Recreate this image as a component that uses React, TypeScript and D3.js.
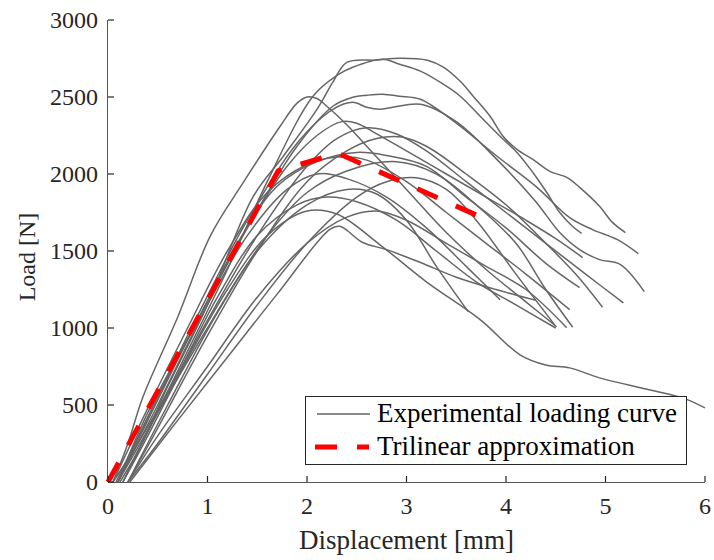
import React from "react";
import * as d3 from "d3";

type P = [number, number];

const xTicks = [0, 1, 2, 3, 4, 5, 6];
const yTicks = [0, 500, 1000, 1500, 2000, 2500, 3000];

const curve01: P[] = [[0.12,0],[0.3,200],[0.6,620],[1.0,1150],[1.46,1854],[1.76,2114],[2.1,2420],[2.26,2596],[2.4,2725],[2.7,2740],[2.93,2752],[3.21,2739],[3.37,2694],[3.54,2602],[3.67,2505],[3.84,2375],[3.97,2245],[4.11,2160],[4.27,2095],[4.44,2017],[4.61,1978],[4.74,1913],[4.94,1790],[5.07,1686],[5.2,1620]];
const curve02: P[] = [[0.15,0],[0.4,330],[0.8,850],[1.2,1380],[1.6,1950],[2.06,2505],[2.3,2640],[2.46,2693],[2.76,2745],[2.93,2713],[3.14,2668],[3.37,2583],[3.54,2505],[3.74,2375],[3.94,2245],[4.11,2140],[4.27,2010],[4.41,1880],[4.54,1750],[4.67,1659],[4.76,1614]];
const curve03: P[] = [[0.05,0],[0.2,250],[0.35,550],[0.7,1070],[1.03,1600],[1.36,1945],[1.73,2310],[1.9,2460],[2.0,2500],[2.1,2490],[2.2,2440],[2.4,2320],[2.6,2180],[3.0,1900],[3.4,1620],[3.8,1380],[4.2,1170],[4.51,1008]];
const curve04: P[] = [[0.1,0],[0.4,400],[0.9,1050],[1.4,1650],[1.9,2180],[2.26,2440],[2.46,2498],[2.6,2511],[2.76,2518],[2.93,2505],[3.14,2485],[3.5,2330],[3.9,2120],[4.3,1920],[4.64,1717],[4.87,1639],[5.12,1574],[5.33,1483]];
const curve05: P[] = [[0.08,0],[0.4,420],[0.9,1080],[1.4,1700],[1.9,2200],[2.26,2420],[2.46,2466],[2.6,2433],[2.73,2420],[2.86,2433],[3.14,2453],[3.5,2340],[3.9,2100],[4.3,1820],[4.54,1620],[4.74,1509],[4.94,1444],[5.15,1412],[5.39,1236]];
const curve06: P[] = [[0.1,0],[0.4,420],[0.9,1050],[1.4,1650],[1.8,2050],[2.1,2250],[2.35,2340],[2.5,2330],[2.7,2260],[3.0,2150],[3.4,2000],[3.8,1850],[4.2,1700],[4.5,1580],[4.77,1457]];
const curve07: P[] = [[0.15,0],[0.5,450],[1.0,1050],[1.5,1600],[2.0,2050],[2.3,2230],[2.6,2300],[2.9,2260],[3.2,2150],[3.6,1950],[4.0,1750],[4.4,1550],[4.8,1350],[5.18,1163]];
const curve08: P[] = [[0.2,0],[0.5,350],[1.0,950],[1.5,1500],[2.0,1950],[2.4,2150],[2.7,2230],[2.95,2240],[3.2,2180],[3.6,2000],[4.0,1800],[4.4,1550],[4.7,1350],[4.97,1135]];
const curve09: P[] = [[0.1,0],[0.4,450],[0.9,1050],[1.3,1550],[1.7,1920],[2.1,2080],[2.5,2140],[2.8,2120],[3.2,2050],[3.6,1850],[4.0,1650],[4.4,1420],[4.74,1262]];
const curve10: P[] = [[0.05,0],[0.4,480],[0.8,1000],[1.2,1500],[1.6,1880],[2.0,2060],[2.3,2110],[2.6,2090],[3.0,1950],[3.4,1750],[3.8,1550],[4.2,1350],[4.64,1119]];
const curve11: P[] = [[0.2,0],[0.6,500],[1.1,1100],[1.6,1600],[2.0,1880],[2.4,2020],[2.9,2080],[3.3,2000],[3.7,1800],[4.1,1550],[4.4,1250],[4.67,1005]];
const curve12: P[] = [[0.1,0],[0.5,500],[1.0,1150],[1.4,1600],[1.8,1900],[2.1,2000],[2.4,1970],[2.8,1850],[3.2,1650],[3.6,1400],[3.94,1184]];
const curve13: P[] = [[0.2,0],[0.5,250],[1.0,700],[1.5,1150],[2.0,1550],[2.5,1850],[2.8,1950],[3.1,1975],[3.4,1900],[3.7,1700],[4.1,1350],[4.49,1020]];
const curve14: P[] = [[0.1,0],[0.5,450],[1.0,1000],[1.5,1500],[2.0,1800],[2.4,1900],[2.7,1870],[3.0,1700],[3.3,1400],[3.62,1106]];
const curve15: P[] = [[0.15,0],[0.4,300],[0.8,800],[1.2,1250],[1.6,1600],[2.0,1760],[2.3,1740],[2.73,1542],[3.2,1300],[3.74,1054],[4.14,826],[4.4,760],[4.64,741],[4.94,676],[5.45,598],[5.8,540],[6.0,481]];
const curve16: P[] = [[0.2,0],[0.5,300],[1.0,750],[1.5,1200],[2.0,1550],[2.4,1720],[2.7,1760],[3.0,1700],[3.4,1550],[3.8,1400],[4.2,1250],[4.61,1002]];
const curve17: P[] = [[0.22,0],[0.7,400],[1.2,810],[1.7,1220],[2.23,1640],[2.33,1660],[2.56,1555],[2.8,1509],[3.14,1425],[3.5,1330],[3.9,1250],[4.3,1180]];
const curve18: P[] = [[0.05,0],[0.3,250],[0.7,700],[1.1,1200],[1.5,1600],[1.9,1800],[2.2,1850],[2.5,1820],[2.9,1700],[3.3,1500],[3.7,1300],[4.1,1150],[4.5,1000]];

const experimental: P[][] = [curve01, curve02, curve03, curve04, curve05, curve06, curve07, curve08, curve09, curve10, curve11, curve12, curve13, curve14, curve15, curve16, curve17, curve18];

const trilinear: P[] = [[0, 0], [1.71, 2020], [2.31, 2135], [3.73, 1725]];

const legendLabels = ["Experimental loading curve", "Trilinear approximation"];

const W = 714, H = 560;
const left = 108, right = 705, top = 20, bottom = 482;
const FONT = "'Liberation Serif', 'Times New Roman', serif";
const GRAY = "#666666";
const INK = "#262626";

export default function App() {
  const x = d3.scaleLinear().domain([0, 6]).range([left, right]);
  const y = d3.scaleLinear().domain([0, 3000]).range([bottom, top]);
  const line = d3.line<P>().x(d => x(d[0])).y(d => y(d[1])).curve(d3.curveCatmullRom.alpha(0.5));
  const straight = d3.line<P>().x(d => x(d[0])).y(d => y(d[1]));

  return (
    <svg width={W} height={H} style={{ position: "absolute", left: 0, top: 0, background: "#fff" }}>
      <rect width={W} height={H} fill="#fff" />
      {experimental.map((c, i) => (
        <path key={i} d={line(c) || ""} fill="none" stroke={GRAY} strokeWidth={1.5} />
      ))}
      <path d={straight(trilinear) || ""} fill="none" stroke="#ff0000" strokeWidth={5} strokeDasharray="22 20" />

      {/* axes */}
      <line x1={left} x2={right} y1={bottom + 0.5} y2={bottom + 0.5} stroke="#555" strokeWidth={1} />
      <line x1={left - 0.5} x2={left - 0.5} y1={top} y2={bottom} stroke="#555" strokeWidth={1} />
      {xTicks.map(t => (
        <g key={"x" + t}>
          <line x1={x(t)} x2={x(t)} y1={bottom} y2={bottom - 6} stroke={INK} strokeWidth={1.2} />
          <text x={x(t)} y={514} textAnchor="middle" fontFamily={FONT} fontSize={24} fill={INK}>{t}</text>
        </g>
      ))}
      {yTicks.map(t => (
        <g key={"y" + t}>
          <line x1={left} x2={left + 6} y1={y(t)} y2={y(t)} stroke={INK} strokeWidth={1.2} />
          <text x={98} y={y(t) + 8} textAnchor="end" fontFamily={FONT} fontSize={24} fill={INK}>{t}</text>
        </g>
      ))}
      <text x={(left + right) / 2} y={549} textAnchor="middle" fontFamily={FONT} fontSize={27} fill={INK}>Displacement [mm]</text>
      <text transform={`translate(35,${(top + bottom) / 2 + 6}) rotate(-90)`} textAnchor="middle" fontFamily={FONT} fontSize={24} fill={INK}>Load [N]</text>

      {/* legend */}
      <rect x={305.5} y={396.5} width={381} height={68} fill="#fff" stroke={INK} strokeWidth={1} />
      <line x1={317} x2={370} y1={414} y2={414} stroke={GRAY} strokeWidth={1.5} />
      <line x1={315} x2={369} y1={447} y2={447} stroke="#ff0000" strokeWidth={5} strokeDasharray="22 20" />
      <text x={377} y={422} fontFamily={FONT} fontSize={27} fill="#000">{legendLabels[0]}</text>
      <text x={377} y={455} fontFamily={FONT} fontSize={27} fill="#000">{legendLabels[1]}</text>
    </svg>
  );
}
